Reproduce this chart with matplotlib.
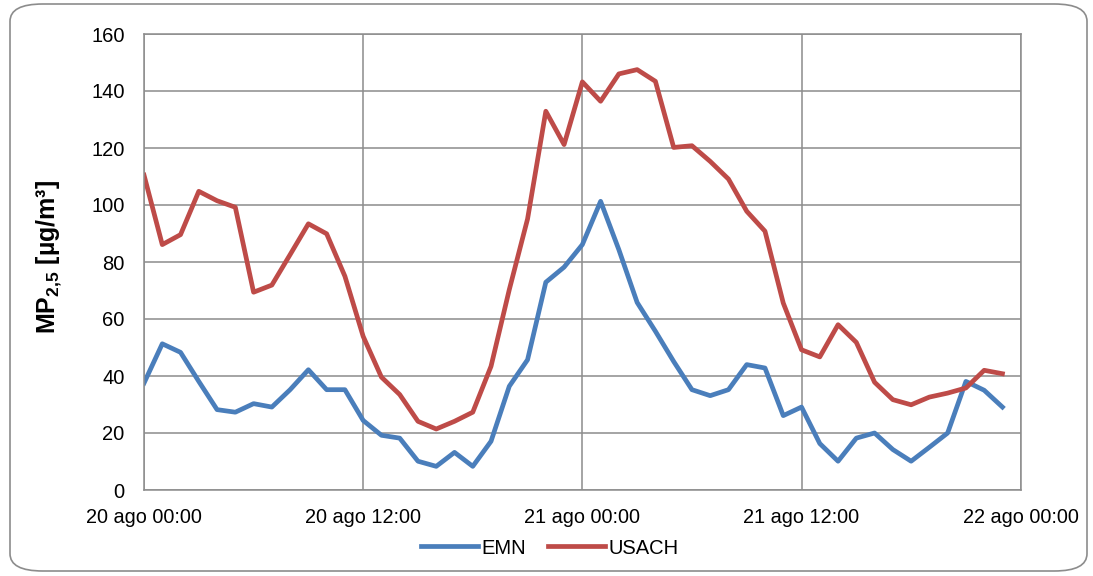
import matplotlib
matplotlib.use("Agg")
import matplotlib.pyplot as plt
from matplotlib.patches import FancyBboxPatch

plt.rcParams['font.family'] = ['Liberation Sans', 'DejaVu Sans']
plt.rcParams['mathtext.fontset'] = 'custom'
plt.rcParams['mathtext.rm'] = 'Liberation Sans'
plt.rcParams['mathtext.bf'] = 'Liberation Sans:bold'

hours = list(range(48))
emn = [37.5, 51.3, 48.3, 38.1, 28.2, 27.3, 30.3, 29.1, 35.2, 42.2, 35.2, 35.2,
       24.4, 19.2, 18.2, 10.1, 8.3, 13.2, 8.3, 17.1, 36.4, 45.7, 72.9, 78.2,
       86.1, 101.3, 84.3, 65.8, 55.7, 45.1, 35.2, 33.1, 35.2, 44.0, 42.8, 26.1,
       29.1, 16.3, 10.1, 18.2, 20.0, 14.2, 10.1, 15.0, 20.0, 38.1, 35.0, 29.1]
usach = [110.5, 86.1, 89.6, 104.8, 101.5, 99.2, 69.4, 71.9, 82.6, 93.4, 89.9, 75.0,
         53.9, 39.6, 33.5, 24.1, 21.4, 24.1, 27.3, 43.4, 70.3, 95.1, 132.9, 121.2,
         143.2, 136.4, 146.0, 147.5, 143.4, 120.2, 120.8, 115.3, 109.1, 97.8, 90.8, 65.6,
         49.2, 46.7, 58.0, 51.8, 37.8, 31.7, 29.9, 32.6, 34.0, 35.8, 42.0, 40.8]
xtick_pos = [0, 12, 24, 36, 48]
xtick_labels = ["20 ago 00:00", "20 ago 12:00", "21 ago 00:00", "21 ago 12:00", "22 ago 00:00"]
yticks = [0, 20, 40, 60, 80, 100, 120, 140, 160]

fig = plt.figure(figsize=(10.93, 5.76), dpi=100)
ax = fig.add_axes([144/1093, 1-490/576, (1020.7-144)/1093, (490-34)/576])

ax.plot(hours, emn, color='#4A7EBB', lw=3.4, label='EMN')
ax.plot(hours, usach, color='#BE4B48', lw=3.4, label='USACH')

ax.set_xlim(0, 48)
ax.set_ylim(0, 160)
ax.set_xticks(xtick_pos)
ax.set_xticklabels(xtick_labels)
ax.set_yticks(yticks)
ax.grid(True, color='#8C8C8C', lw=1.1)
ax.set_axisbelow(True)
for s in ax.spines.values():
    s.set_color('#8C8C8C')
    s.set_linewidth(1.1)
ax.tick_params(length=0, colors='black')
ax.tick_params(axis='x', labelsize=14.3, pad=13)
ax.tick_params(axis='y', labelsize=14.5, pad=14)
ax.set_ylabel('MP$_{\\mathbf{2{,}5}}$ [µg/m³]', fontsize=18, fontweight='bold')
ax.yaxis.set_label_coords(-80/876.7, 0.51)

leg = fig.legend(loc='center', bbox_to_anchor=(550/1093, 1-548/576), ncol=2, frameon=False,
                 fontsize=14.5, handlelength=2.8, handletextpad=0.2, columnspacing=1.1)

border = FancyBboxPatch((10/1093, 5/576), (1087-10)/1093, (572-5)/576,
                        boxstyle="round,pad=0,rounding_size=0.03",
                        transform=fig.transFigure, fill=False, ec='#8C8C8C', lw=1.2)
fig.patches.append(border)

fig.savefig('out.png', dpi=100)
